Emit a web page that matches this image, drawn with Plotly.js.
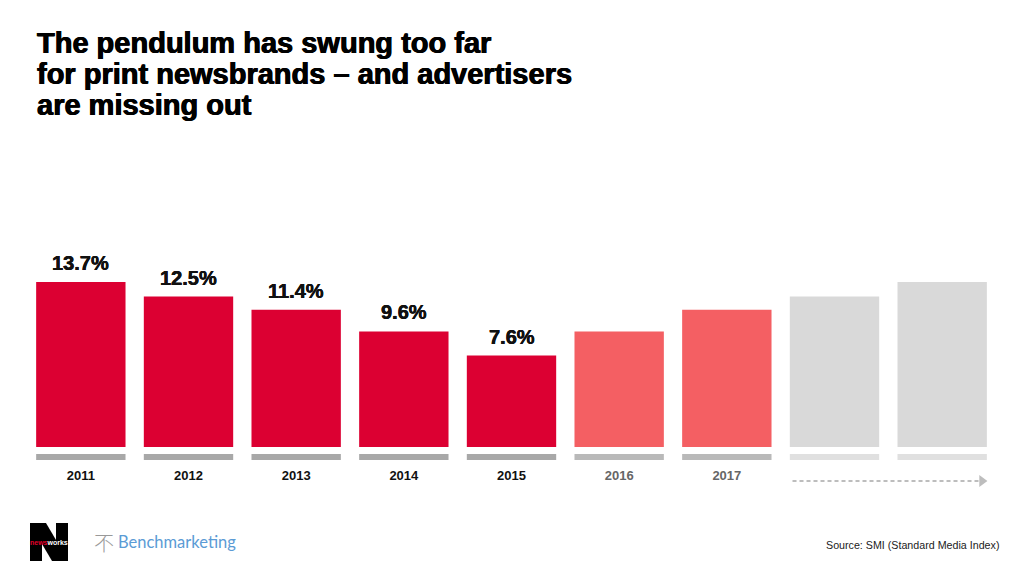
<!DOCTYPE html>
<html>
<head>
<meta charset="utf-8">
<script src="https://cdn.plot.ly/plotly-3.0.1.min.js"></script>
<style>html,body{margin:0;padding:0;background:#fff;}#chart{width:1024px;height:576px;}</style>
</head>
<body>
<div id="chart"></div>
<script>
// ---- data ----
const titleLines = ["The pendulum has swung too far", "for print newsbrands – and advertisers", "are missing out"];
const categories = ["2011","2012","2013","2014","2015","2016","2017","f1","f2"];
const tickLabels = ["2011","2012","2013","2014","2015","2016","2017","",""];
const shareValues = [13.7, 12.5, 11.4, 9.6, 7.6, 9.6, 11.4, 12.5, 13.7];
const valueLabels = ["13.7%","12.5%","11.4%","9.6%","7.6%","","","",""];
const barColors = ["#dc0032","#dc0032","#dc0032","#dc0032","#dc0032","#f45f63","#f45f63","#d9d9d9","#d9d9d9"];
const stripColors = ["#a8a8a8","#a8a8a8","#a8a8a8","#a8a8a8","#a8a8a8","#b9b9b9","#b9b9b9","#e0e0e0","#e0e0e0"];
const labelColors = ["#111","#111","#111","#111","#111","#666","#666","#111","#111"];
const stripBase = -1.08;
const stripHeight = 0.5;

const xIdx = categories.map((c,i)=>i);

// plot-area geometry (px) used to place decorations
const M = {l:27, r:28, t:150, b:113};
const PW = 1024 - M.l - M.r, PH = 576 - M.t - M.b;
const px2x = p => (p - M.l) / PW;
const py2y = p => (576 - M.b - p) / PH;

const bars = {
  type: "bar", x: xIdx, y: shareValues,
  marker: {color: barColors, line: {width: 0}},
  width: 0.83, hoverinfo: "skip", showlegend: false
};
const strips = {
  type: "bar", x: xIdx, y: categories.map(()=>stripHeight), base: categories.map(()=>stripBase),
  marker: {color: stripColors, line: {width: 0}},
  width: 0.83, hoverinfo: "skip", showlegend: false
};

const heavy = "0.5px 0 0 #000, -0.5px 0 0 #000";
const annotations = [];
// title lines
const titleShifts = [107, 76, 45];
titleLines.forEach((t,i)=>{
  annotations.push({xref:"paper", yref:"paper", x:0, y:1, text:t, showarrow:false,
    xanchor:"left", yanchor:"middle", xshift: 37 - M.l - 2, yshift: titleShifts[i],
    font:{family:"Liberation Sans, Arial, sans-serif", size:29, color:"#000", weight:"bold", shadow: heavy}});
});
valueLabels.forEach((t,i)=>{
  if(!t) return;
  annotations.push({x: i, y: shareValues[i], xref:"x", yref:"y", text: t, showarrow:false,
    yshift: 19, font:{family:"Liberation Sans, Arial, sans-serif", size:20, color:"#111", weight:"bold", shadow:"0.3px 0 0 #111, -0.3px 0 0 #111"}});
});
// logos and source
annotations.push({xref:"paper", yref:"paper", x:px2x(49), y:py2y(542), showarrow:false,
  text:"<span style='color:#e3002b'>news</span>works", xanchor:"center", yanchor:"middle",
  font:{family:"Liberation Sans, Arial, sans-serif", size:7, color:"#fff", weight:"bold"}});
annotations.push({xref:"paper", yref:"paper", x:px2x(92), y:py2y(542), text:"不", showarrow:false,
  xanchor:"left", yanchor:"middle",
  font:{family:"Noto Sans CJK SC, sans-serif", size:20, color:"#999", weight:300}});
annotations.push({xref:"paper", yref:"paper", x:px2x(116), y:py2y(542), text:"Benchmarketing", showarrow:false,
  xanchor:"left", yanchor:"middle",
  font:{family:"Lato, Noto Sans, sans-serif", size:16.5, color:"#5b9bd5"}});
annotations.push({xref:"paper", yref:"paper", x:px2x(1001), y:py2y(545), text:"Source: SMI (Standard Media Index)", showarrow:false,
  xanchor:"right", yanchor:"middle",
  font:{family:"Liberation Sans, Arial, sans-serif", size:10.7, color:"#222"}});

const arrowY = py2y(481);
const shapes = [
  {type:"line", xref:"x", yref:"paper", x0: 7-0.39, x1: 8+0.35, y0:arrowY, y1:arrowY,
   line:{color:"#bdbdbd", width:2, dash:"4px,3px"}},
  {type:"path", xref:"x", yref:"paper",
   path:`M 8.345 ${arrowY+6/PH} L 8.42 ${arrowY} L 8.345 ${arrowY-6/PH} Z`,
   fillcolor:"#bdbdbd", line:{width:0}},
  // newsworks "N" logo
  {type:"rect", xref:"paper", yref:"paper", x0:px2x(30), x1:px2x(68), y0:py2y(561), y1:py2y(523),
   fillcolor:"#000", line:{width:0}},
  {type:"path", xref:"paper", yref:"paper",
   path:`M ${px2x(46)} ${py2y(523)} L ${px2x(56)} ${py2y(523)} L ${px2x(56)} ${py2y(540)} Z`,
   fillcolor:"#fff", line:{width:0}},
  {type:"path", xref:"paper", yref:"paper",
   path:`M ${px2x(42)} ${py2y(544)} L ${px2x(42)} ${py2y(561)} L ${px2x(52)} ${py2y(561)} Z`,
   fillcolor:"#fff", line:{width:0}}
];

const layout = {
  width: 1024, height: 576,
  paper_bgcolor:"#fff", plot_bgcolor:"#fff",
  margin:M,
  barmode:"overlay",
  xaxis:{range:[-0.5, 8.5], tickmode:"array", tickvals:xIdx,
    ticktext: tickLabels.map((t,i)=>t ? `<span style="color:${labelColors[i]}">${t}</span>` : ""),
    showgrid:false, zeroline:false, showline:false, ticks:"", ticklabelstandoff: 3,
    tickfont:{family:"Liberation Sans, Arial, sans-serif", size:13, color:"#111", weight:"bold"}, fixedrange:true},
  yaxis:{range:[-1.33, 24.67], visible:false, showgrid:false, zeroline:false, fixedrange:true},
  annotations: annotations,
  shapes: shapes,
  showlegend:false
};

Plotly.newPlot("chart", [bars, strips], layout, {staticPlot:true, displayModeBar:false});
</script>
</body>
</html>
